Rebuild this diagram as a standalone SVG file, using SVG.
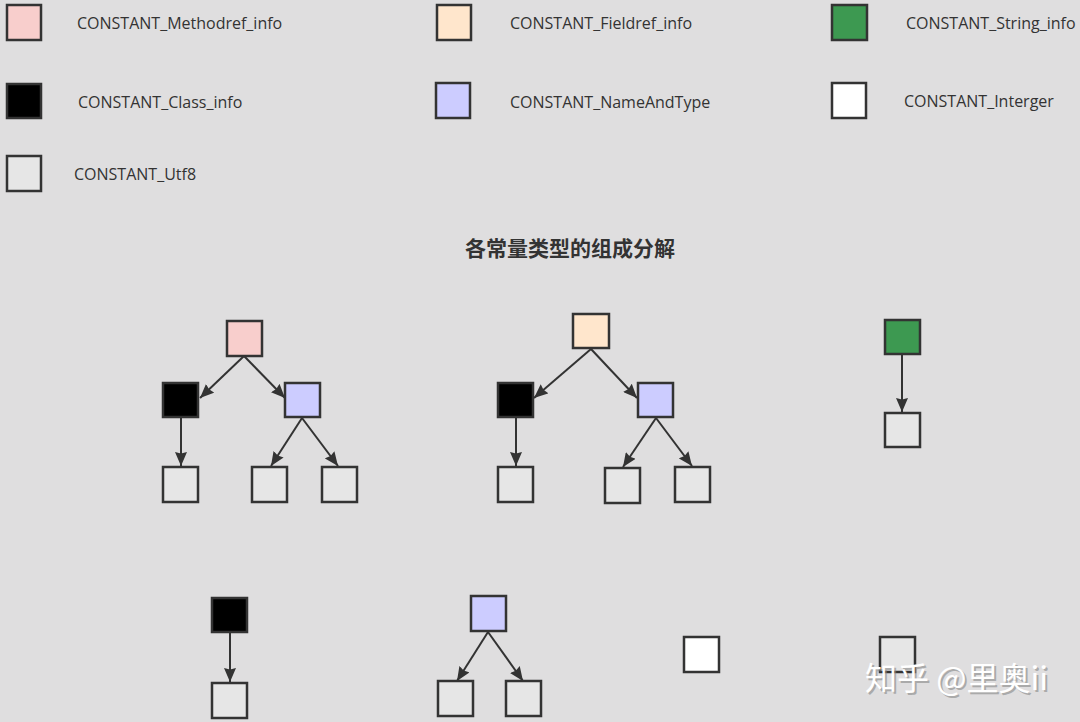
<svg xmlns="http://www.w3.org/2000/svg" width="1080" height="722" viewBox="0 0 1080 722">
<defs>
<marker id="ah" viewBox="0 0 14 12" refX="14" refY="6" markerWidth="14" markerHeight="12" markerUnits="userSpaceOnUse" orient="auto">
<path d="M0,0 L14,6 L0,12 L1.5,6 Z" fill="#333"/>
</marker>
<style>
.b{stroke:#333;stroke-width:2.5}
.pink{fill:#f8cecc}.peach{fill:#ffe6cc}.green{fill:#3d9951}.black{fill:#000}.lav{fill:#ccccff}.white{fill:#fff}.utf{fill:#e6e6e6}
.lg{font-family:"Open Sans","Noto Sans",sans-serif;font-size:16px;fill:#333}
.c{stroke:#333;stroke-width:2;fill:none;marker-end:url(#ah)}
.t{font-family:"Noto Sans CJK SC",sans-serif;font-size:21px;font-weight:bold;fill:#333}
.wm{font-family:"Noto Sans CJK SC",sans-serif;font-size:32px;fill:#fff}
</style>
</defs>
<rect width="1080" height="722" fill="#dfdedf"/>
<g id="legend">
<g id="lg-methodref"><rect class="b pink" x="7" y="5" width="34" height="35"/><text class="lg" x="77" y="29">CONSTANT_Methodref_info</text></g>
<g id="lg-fieldref"><rect class="b peach" x="437" y="5" width="34" height="35"/><text class="lg" x="510" y="29">CONSTANT_Fieldref_info</text></g>
<g id="lg-string"><rect class="b green" x="832" y="5" width="35" height="35"/><text class="lg" x="906" y="29">CONSTANT_String_info</text></g>
<g id="lg-class"><rect class="b black" x="7" y="84" width="34" height="34"/><text class="lg" x="78" y="108">CONSTANT_Class_info</text></g>
<g id="lg-nat"><rect class="b lav" x="436" y="83" width="34" height="35"/><text class="lg" x="510" y="108">CONSTANT_NameAndType</text></g>
<g id="lg-int"><rect class="b white" x="832" y="83" width="34" height="35"/><text class="lg" x="904" y="107">CONSTANT_Interger</text></g>
<g id="lg-utf8"><rect class="b utf" x="7" y="156" width="34" height="35"/><text class="lg" x="74" y="180">CONSTANT_Utf8</text></g>
</g>
<text class="t" x="570" y="256" text-anchor="middle">各常量类型的组成分解</text>
<g id="connectors">
<line class="c" x1="244" y1="356" x2="200" y2="398"/>
<line class="c" x1="244" y1="356" x2="285" y2="398"/>
<line class="c" x1="181" y1="418" x2="181" y2="466"/>
<line class="c" x1="302" y1="418" x2="271" y2="466"/>
<line class="c" x1="302" y1="418" x2="338" y2="466"/>
<line class="c" x1="591" y1="349" x2="534" y2="398"/>
<line class="c" x1="591" y1="349" x2="637" y2="398"/>
<line class="c" x1="516" y1="418" x2="516" y2="466"/>
<line class="c" x1="656" y1="418" x2="623" y2="467"/>
<line class="c" x1="656" y1="418" x2="692" y2="466"/>
<line class="c" x1="902" y1="355" x2="902" y2="412"/>
<line class="c" x1="230" y1="633" x2="230" y2="682"/>
<line class="c" x1="488" y1="632" x2="457" y2="681"/>
<line class="c" x1="488" y1="632" x2="523" y2="681"/>
</g>
<g id="n1"><rect class="b pink" x="227" y="321" width="35" height="35"/></g>
<g id="n2"><rect class="b black" x="163" y="383" width="35" height="34"/></g>
<g id="n3"><rect class="b lav" x="285" y="383" width="35" height="34"/></g>
<g id="n4"><rect class="b utf" x="163" y="467" width="35" height="35"/></g>
<g id="n5"><rect class="b utf" x="252" y="467" width="35" height="35"/></g>
<g id="n6"><rect class="b utf" x="322" y="467" width="35" height="35"/></g>
<g id="n7"><rect class="b peach" x="573" y="314" width="36" height="34"/></g>
<g id="n8"><rect class="b black" x="498" y="383" width="35" height="34"/></g>
<g id="n9"><rect class="b lav" x="638" y="383" width="35" height="34"/></g>
<g id="n10"><rect class="b utf" x="498" y="467" width="35" height="35"/></g>
<g id="n11"><rect class="b utf" x="605" y="468" width="35" height="35"/></g>
<g id="n12"><rect class="b utf" x="675" y="467" width="35" height="35"/></g>
<g id="n13"><rect class="b green" x="885" y="320" width="35" height="34"/></g>
<g id="n14"><rect class="b utf" x="885" y="413" width="35" height="34"/></g>
<g id="n15"><rect class="b black" x="212" y="598" width="35" height="34"/></g>
<g id="n16"><rect class="b utf" x="212" y="683" width="35" height="35"/></g>
<g id="n17"><rect class="b lav" x="471" y="596" width="35" height="35"/></g>
<g id="n18"><rect class="b utf" x="438" y="681" width="35" height="35"/></g>
<g id="n19"><rect class="b utf" x="506" y="681" width="35" height="35"/></g>
<g id="n20"><rect class="b white" x="684" y="637" width="35" height="35"/></g>
<g id="n21"><rect class="b utf" x="880" y="637" width="35" height="35"/></g>
<text x="865" y="690" font-family="Noto Sans CJK SC,sans-serif" font-size="32" fill="#888" opacity="0.6" transform="translate(2,2)">知乎 @里奥ii</text>
<text class="wm" x="865" y="690">知乎 @里奥ii</text>
</svg>
